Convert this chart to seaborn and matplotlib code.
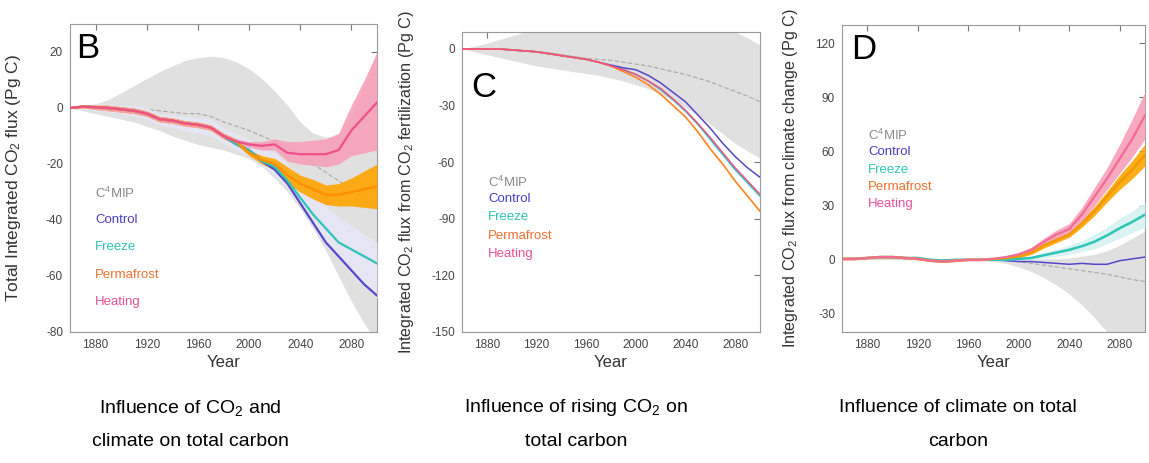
import numpy as np
import pandas as pd
import matplotlib
matplotlib.use("Agg")
import matplotlib.pyplot as plt
import seaborn as sns

YEARS = list(range(1860, 2101, 10))

# ---------------- Panel B: total ----------------
B_control = [0, 0.5, 0.3, 0, -0.5, -1, -2, -4, -4.5, -5.5, -6, -7, -10, -13, -15, -19, -22, -27, -34, -41, -48, -53, -58, -63, -67]
B_freeze = [0, 0.5, 0.3, 0, -0.5, -1, -2, -4, -4.5, -5.5, -6, -7, -10, -13, -15, -19, -21, -26, -32, -38, -43, -48, -50.5, -53, -55.5]
B_perma = [0, 0.5, 0.3, 0, -0.5, -1, -2, -4, -4.5, -5.5, -6, -7, -10, -12, -16, -18.5, -20, -24, -27, -29, -31, -31, -30, -29, -28]
B_perma_lo = [0, 0, -0.5, -1, -1.5, -2, -3, -5, -5.5, -6.5, -7, -8, -11, -13, -17, -20, -22, -27, -30, -32.5, -34.5, -35, -35, -35.5, -36]
B_perma_hi = [0, 1, 1, 1, 0.5, 0, -1, -3, -3.5, -4.5, -5, -6, -9, -11, -15, -17, -18, -21, -24, -25.5, -27.5, -27, -25, -22.5, -20]
B_heat = [0, 0.5, 0.3, 0, -0.5, -1, -2, -4, -4.5, -5.5, -6, -7, -10, -12, -13, -13.5, -13, -16, -16.5, -16.5, -16.5, -15, -8, -3, 2]
B_heat_lo = [0, 0, -0.5, -1, -1.5, -2, -3, -5, -5.5, -6.5, -7, -8, -11, -13, -14, -15, -15, -19, -20, -20.5, -21, -20, -17, -16, -15]
B_heat_hi = [0, 1, 1, 1, 0.5, 0, -1, -3, -3.5, -4.5, -5, -6, -9, -11, -12, -12, -11, -12, -12, -11.5, -11, -9, 1, 10, 20]
B_cf_lo = [0, -0.5, -1, -1.5, -2, -3, -4, -6, -7, -8, -9, -10, -12.5, -15, -17, -21, -24, -29, -35, -42, -49, -54, -59, -64, -68]
B_cf_hi = [0, 1, 1.5, 1.5, 1, 1, 0, -2, -2.5, -3, -3.5, -4, -7, -9, -11, -14, -16, -20, -25, -30, -35, -39, -42, -45, -48]
B_gray_hi = [0, 0.5, 1.5, 3, 5.5, 8, 10.5, 13, 15, 17, 18, 18.5, 18, 16.5, 14, 10.5, 6, 1, -5, -9, -10.5, -10, -3, 8, 20]
B_gray_lo = [0, -1, -2, -3, -4, -5, -6.5, -8, -10, -11.5, -13, -14, -15, -16.5, -18, -21, -25, -30, -36, -43, -51, -60, -69, -77, -84]
B_mean = [0, 0, 0, 0, 0, 0, -0.5, -1, -1.5, -2, -2, -3, -5, -6.5, -8, -10, -12, -14.5, -17, -20, -23, -26, -29, -32, -35]

# ---------------- Panel C: CO2 fertilization ----------------
C_control = [0, 0, 0, 0, -0.5, -1, -1.5, -2.5, -3.5, -4.5, -5.5, -7, -8.5, -10, -11, -14, -18, -23, -28, -35, -42, -50, -57, -63, -68]
C_freeze = [0, 0, 0, 0, -0.5, -1, -1.5, -2.5, -3.5, -4.5, -5.5, -7, -9, -11, -13.5, -17, -21.5, -27, -33, -40, -48, -56, -64, -71, -78]
C_perma = [0, 0, 0, 0, -0.5, -1, -1.5, -2.5, -3.5, -4.5, -5.5, -7, -9, -12, -15, -19, -24, -30, -36, -44, -53, -61, -70, -78, -86]
C_heat = [0, 0, 0, 0, -0.5, -1, -1.5, -2.5, -3.5, -4.5, -5.5, -7, -9, -11, -13.5, -17, -21, -26.5, -32.5, -39.5, -47, -55, -63, -70, -77]
C_gray_hi = [0, 1.5, 3, 5, 7, 9, 11, 12, 13, 14, 15, 15, 15, 15, 15, 15, 15, 15, 15, 15, 14, 12, 9, 6, 2]
C_gray_lo = [0, -1.5, -3, -4.5, -6, -7.5, -9, -10, -11, -12, -13, -14, -15.5, -17, -19, -21, -24, -27, -31, -35, -40, -45, -50, -54, -58]
C_mean = [0, 0, 0, 0, -0.5, -1, -1.5, -2, -3, -4, -5, -5.5, -6, -7, -8, -9, -10.5, -12, -13.5, -15.5, -17.5, -20, -22.5, -25, -28]

# ---------------- Panel D: climate change ----------------
D_control = [0.5, 0.5, 1, 1.5, 1.5, 1, 1, 0, -0.5, 0, 0, 0, 0, -0.5, -1, -1, -1.5, -2, -2.5, -2, -2.5, -2.5, -0.5, 0.5, 1.5]
D_freeze = [0.5, 0.5, 1, 1.5, 1.5, 1, 1, 0, -0.5, 0, 0, 0, 0, 0, 0.5, 1, 2.5, 4, 5.5, 7.5, 10, 13.5, 17.5, 21, 25]
D_freeze_lo = [0, 0, 0.5, 1, 1, 0.5, 0.5, -0.5, -1, -0.5, -0.5, -0.5, -0.5, -0.5, 0, 0, 1, 2, 3, 4.5, 6, 9, 12, 15, 18]
D_freeze_hi = [1, 1, 1.5, 2, 2, 1.5, 1.5, 0.5, 0, 0.5, 0.5, 0.5, 0.5, 0.5, 1, 2, 4, 6, 8, 10.5, 14, 18, 23, 27, 32]
D_perma = [0.5, 0.5, 1, 1.5, 1.5, 1, 0.5, -0.5, -1, -0.5, 0, 0, 0.5, 1, 2, 4, 8, 11, 14, 20, 27, 35, 43, 50, 58]
D_perma_lo = [0, 0, 0.5, 1, 1, 0.5, 0, -1, -1.5, -1, -0.5, -0.5, 0, 0.5, 1, 3, 6.5, 9.5, 12.5, 18, 24.5, 32, 39, 45, 52]
D_perma_hi = [1, 1, 1.5, 2, 2, 1.5, 1, 0, -0.5, 0, 0.5, 0.5, 1, 1.5, 3, 5, 9.5, 12.5, 15.5, 22, 29.5, 38, 47, 55, 64]
D_heat = [0.5, 0.5, 1, 1.5, 1.5, 1, 0.5, -0.5, -1, -0.5, 0, 0, 0.5, 1.5, 3, 5.5, 10, 14, 17, 25, 35, 45, 56, 67, 80]
D_heat_lo = [0, 0, 0.5, 1, 1, 0.5, 0, -1, -1.5, -1, -0.5, -0.5, 0, 1, 2, 4, 8, 11.5, 14, 21, 30, 39, 48, 57, 67]
D_heat_hi = [1, 1, 1.5, 2, 2, 1.5, 1, 0, -0.5, 0, 0.5, 0.5, 1, 2, 4, 7, 12, 16.5, 20, 29, 40, 51, 64, 78, 93]
D_gray_hi = [0.5, 0.5, 1, 1.5, 1.5, 1, 1, 0.5, 0.5, 0.5, 0.5, 0.5, 0.5, 0.5, 0.5, 0.5, 0.5, 0.5, 1, 2, 3, 5, 8, 12, 16]
D_gray_lo = [0, 0, 0, 0, 0, 0, 0, -0.5, -0.5, -0.5, -0.5, -0.5, -1, -2, -4, -6.5, -10, -14, -19, -25, -32, -40, -48, -58, -68]
D_mean = [0.3, 0.3, 0.5, 0.8, 0.8, 0.5, 0.5, 0, 0, 0, 0, 0, 0, -0.5, -1, -2, -3, -4, -5, -6, -7, -8, -9.5, -11, -12]

SERIES = ["Control", "Freeze", "Permafrost", "Heating"]
COLORS = {"Control": "#5548c8", "Freeze": "#2ec4b6", "Permafrost": "#ff9000", "Heating": "#f0508a"}
LEG_COLORS = ["#8a8a8a", "#4a3fc0", "#2ec4b6", "#f07030", "#e8509a"]
LEG_LABELS = ["C$^4$MIP", "Control", "Freeze", "Permafrost", "Heating"]
GRAY_BAND = "#e0e0e0"

sns.set_style("white")
plt.rcParams["font.family"] = ["Liberation Sans", "DejaVu Sans"]
plt.rcParams["mathtext.fontset"] = "custom"
plt.rcParams["mathtext.rm"] = "Liberation Sans"
plt.rcParams["mathtext.it"] = "Liberation Sans"
plt.rcParams["axes.unicode_minus"] = False

fig = plt.figure(figsize=(11.49, 4.63), dpi=100)
W, H = 1149, 463

def ax_px(l, t, r, b):
    return fig.add_axes([l / W, 1 - b / H, (r - l) / W, (b - t) / H])

panels = [
    dict(rect=(70, 24, 377, 332), ylim=(-80, 30), yt=[-80, -60, -40, -20, 0, 20],
         lines=[B_control, B_freeze, B_perma, B_heat],
         bands=[("#e6e6f7", B_cf_lo, B_cf_hi), ("#ffa500", B_perma_lo, B_perma_hi),
                ("#f7a0b8", B_heat_lo, B_heat_hi)],
         gray=(B_gray_lo, B_gray_hi), mean=B_mean, letter="B", lpos=(0.02, 0.975),
         ylabel="Total Integrated CO$_2$ flux (Pg C)", ylsize=12.5, ylx=23.5,
         legy=[193, 220, 247, 275, 302], legx=95,
         lw=[1.6, 1.6, 1.8, 1.6]),
    dict(rect=(462, 32, 760, 332), ylim=(-150, 9), yt=[-150, -120, -90, -60, -30, 0],
         lines=[C_control, C_freeze, C_perma, C_heat], bands=[],
         gray=(C_gray_lo, C_gray_hi), mean=C_mean, letter="C", lpos=(0.03, 0.87),
         ylabel="Integrated CO$_2$ flux from CO$_2$ fertilization (Pg C)", ylsize=11.6, ylx=416,
         legy=[182, 199, 217, 236, 254], legx=488, lw=[1.1, 1.1, 1.3, 1.1]),
    dict(rect=(842, 25, 1145, 332), ylim=(-40, 130), yt=[-30, 0, 30, 60, 90, 120],
         lines=[D_control, D_freeze, D_perma, D_heat],
         bands=[("#d4f2f0", D_freeze_lo, D_freeze_hi), ("#ffa500", D_perma_lo, D_perma_hi),
                ("#f7a0b8", D_heat_lo, D_heat_hi)],
         gray=(D_gray_lo, D_gray_hi), mean=D_mean, letter="D", lpos=(0.03, 0.975),
         ylabel="Integrated CO$_2$ flux from climate change (Pg C)", ylsize=11.6, ylx=800,
         legy=[135, 152, 170, 187, 204], legx=868, lw=[1.1, 1.8, 1.8, 1.6]),
]

for p in panels:
    ax = ax_px(*p["rect"])
    yrs = np.array(YEARS)
    ax.fill_between(yrs, p["gray"][0], p["gray"][1], color=GRAY_BAND, lw=0, zorder=1)
    df_mean = pd.DataFrame({"Year": YEARS, "v": p["mean"]})
    sns.lineplot(data=df_mean, x="Year", y="v", ax=ax, color="#a8a8a8", lw=0.8,
                 linestyle=(0, (4, 2)), zorder=2)
    for col, lo, hi in p["bands"]:
        ax.fill_between(yrs, lo, hi, color=col, lw=0, alpha=0.9, zorder=3)
    rows = []
    for name, vals in zip(SERIES, p["lines"]):
        for y, v in zip(YEARS, vals):
            rows.append({"Year": y, "v": v, "Series": name})
    df = pd.DataFrame(rows)
    for name, lw in zip(SERIES, p["lw"]):
        sub = df[df["Series"] == name]
        col = COLORS[name]
        if name == "Permafrost" and p["letter"] != "B":
            col = "#ff8a2a" if p["letter"] == "C" else "#f09a00"
        if name == "Heating" and p["letter"] == "D":
            col = "#f36b95"
        sns.lineplot(data=sub, x="Year", y="v", ax=ax, color=col, lw=lw, zorder=4)
    ax.set_xlim(1860, 2100)
    ax.set_ylim(*p["ylim"])
    ax.set_xticks([1880, 1920, 1960, 2000, 2040, 2080])
    ax.set_yticks(p["yt"])
    ax.tick_params(direction="in", length=4, width=0.8, colors="#777", labelcolor="#444",
                   labelsize=8.5, top=True, right=True, pad=5)
    for s in ax.spines.values():
        s.set_color("#999")
        s.set_linewidth(0.8)
    ax.set_xlabel("Year", fontsize=12, color="#333", labelpad=3)
    ax.set_ylabel(p["ylabel"], fontsize=p["ylsize"], color="#333")
    l, t, r, b = p["rect"]
    ax.yaxis.set_label_coords((p["ylx"] - l) / (r - l), 0.5)
    ax.text(p["lpos"][0], p["lpos"][1], p["letter"], transform=ax.transAxes, fontsize=25,
            va="top", ha="left", color="black")
    for lbl, c, yy in zip(LEG_LABELS, LEG_COLORS, p["legy"]):
        fig.text(p["legx"] / W, 1 - yy / H, lbl, color=c, fontsize=9.5, va="center", ha="left")

captions = [
    (190, ["Influence of CO$_2$ and", "climate on total carbon"]),
    (576, ["Influence of rising CO$_2$ on", "total carbon"]),
    (958, ["Influence of climate on total", "carbon"]),
]
for cx, lines in captions:
    fig.text(cx / W, 1 - 408 / H, lines[0], ha="center", va="center", fontsize=14, color="black")
    fig.text(cx / W, 1 - 442 / H, lines[1], ha="center", va="center", fontsize=14, color="black")

fig.savefig("out.png", dpi=100)
